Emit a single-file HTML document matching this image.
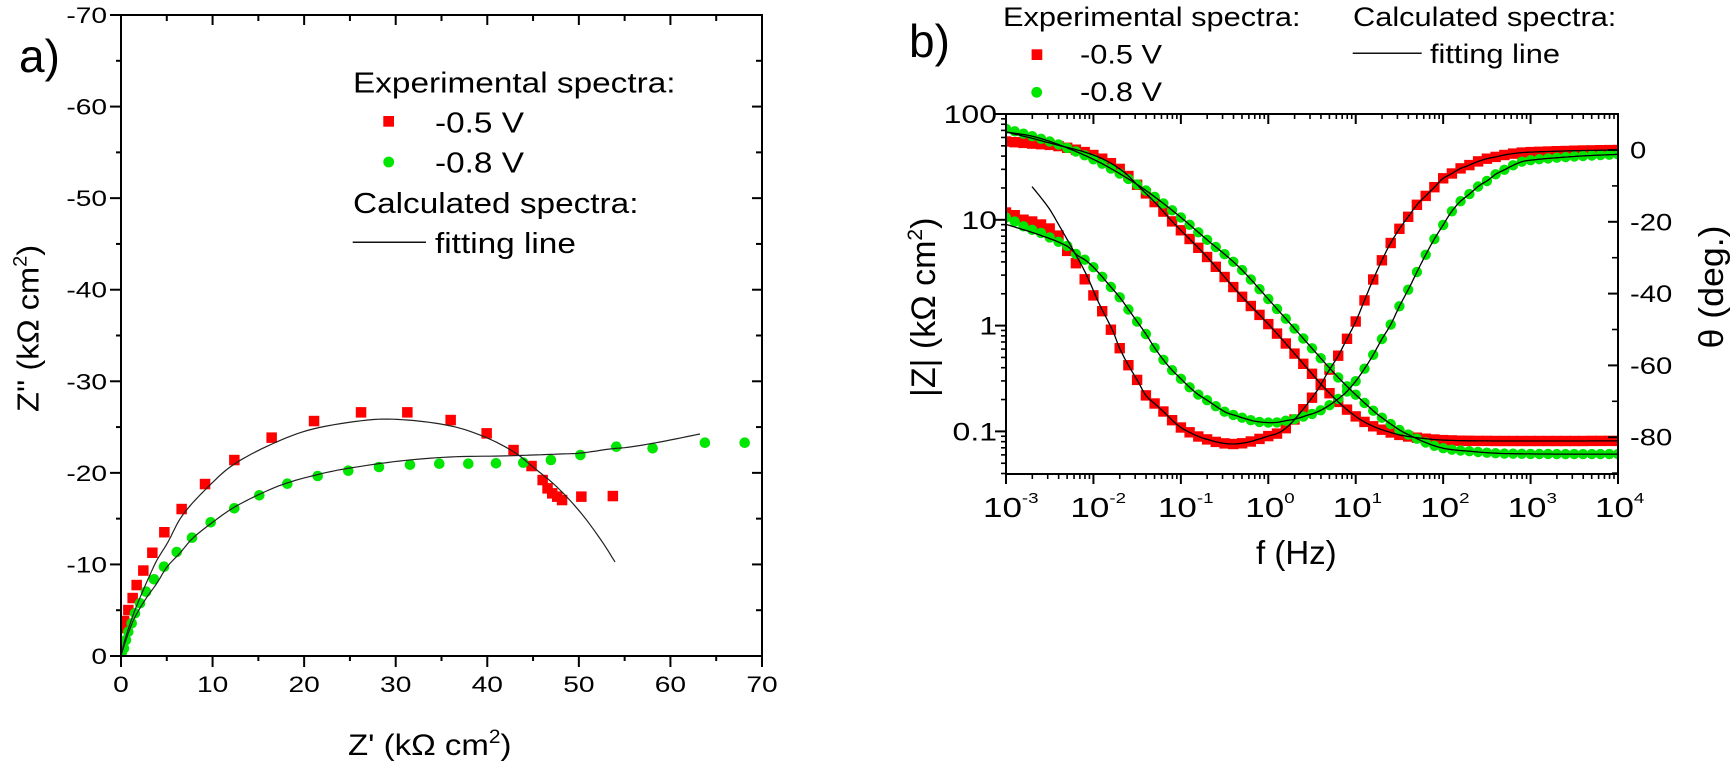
<!DOCTYPE html>
<html><head><meta charset="utf-8">
<style>
html,body{margin:0;padding:0;background:#fff;}
svg{display:block;}
text{font-family:"Liberation Sans",Arial,sans-serif;fill:#000;}
</style></head>
<body>
<svg id="s" width="1732" height="770" viewBox="0 0 1732 770" xmlns="http://www.w3.org/2000/svg">
<defs>
<clipPath id="clipL"><rect x="121" y="15" width="641" height="641"/></clipPath>
<clipPath id="clipR"><rect x="1006" y="114" width="612" height="360"/></clipPath>
</defs>
<rect width="1732" height="770" fill="#fff"/>
<g id="dataL" clip-path="url(#clipL)"></g>
<g id="dataR" clip-path="url(#clipR)"></g>
<g id="ticks" stroke="#000" stroke-width="2" fill="none"></g>
<rect x="121" y="15" width="641" height="641" fill="none" stroke="#000" stroke-width="2"/>
<rect x="1006" y="114" width="612" height="360" fill="none" stroke="#000" stroke-width="2"/>

<!-- panel labels -->
<text x="19" y="72" font-size="46">a)</text>
<text x="909" y="57" font-size="46">b)</text>

<!-- left plot tick labels -->
<g font-size="22" text-anchor="end">
<text transform="translate(107,664) scale(1.28,1)">0</text>
<text transform="translate(107,572.4) scale(1.28,1)">-10</text>
<text transform="translate(107,480.9) scale(1.28,1)">-20</text>
<text transform="translate(107,389.3) scale(1.28,1)">-30</text>
<text transform="translate(107,297.7) scale(1.28,1)">-40</text>
<text transform="translate(107,206.1) scale(1.28,1)">-50</text>
<text transform="translate(107,114.6) scale(1.28,1)">-60</text>
<text transform="translate(107,23) scale(1.28,1)">-70</text>
</g>
<g font-size="22" text-anchor="middle">
<text transform="translate(121,692) scale(1.28,1)">0</text>
<text transform="translate(212.6,692) scale(1.28,1)">10</text>
<text transform="translate(304.1,692) scale(1.28,1)">20</text>
<text transform="translate(395.7,692) scale(1.28,1)">30</text>
<text transform="translate(487.3,692) scale(1.28,1)">40</text>
<text transform="translate(578.9,692) scale(1.28,1)">50</text>
<text transform="translate(670.4,692) scale(1.28,1)">60</text>
<text transform="translate(762,692) scale(1.28,1)">70</text>
</g>

<!-- left plot titles -->
<text transform="translate(348,755) scale(1.1,1)" font-size="30">Z' (kΩ cm<tspan font-size="19" dy="-12">2</tspan><tspan dy="12">)</tspan></text>
<text transform="translate(38.5,412) rotate(-90) scale(1.05,1)" font-size="31">Z'' (kΩ cm<tspan font-size="19" dy="-12">2</tspan><tspan dy="12">)</tspan></text>

<!-- left legend -->
<g font-size="29">
<text transform="translate(353,92.3) scale(1.15,1)">Experimental spectra:</text>
<rect x="383.3" y="116" width="10.7" height="10.7" fill="#ff0000"/>
<text transform="translate(435,132.7) scale(1.15,1)">-0.5 V</text>
<circle cx="388.7" cy="162" r="5.4" fill="#00e600"/>
<text transform="translate(435,172.7) scale(1.15,1)">-0.8 V</text>
<text transform="translate(353,213) scale(1.15,1)">Calculated spectra:</text>
<line x1="352.7" y1="242.3" x2="426" y2="242.3" stroke="#111" stroke-width="1.5"/>
<text transform="translate(435,253) scale(1.15,1)">fitting line</text>
</g>

<!-- right legend -->
<g font-size="27">
<text transform="translate(1003,26) scale(1.14,1)">Experimental spectra:</text>
<rect x="1031.6" y="49.3" width="10.7" height="10.7" fill="#ff0000"/>
<text transform="translate(1080,63.3) scale(1.14,1)">-0.5 V</text>
<circle cx="1036.7" cy="92.3" r="5.4" fill="#00e600"/>
<text transform="translate(1080,101) scale(1.14,1)">-0.8 V</text>
<text transform="translate(1353,26) scale(1.14,1)">Calculated spectra:</text>
<line x1="1352.7" y1="53.3" x2="1421.7" y2="53.3" stroke="#111" stroke-width="1.5"/>
<text transform="translate(1430,63) scale(1.14,1)">fitting line</text>
</g>

<!-- right plot y labels -->
<g font-size="25" text-anchor="end">
<text transform="translate(997,123) scale(1.28,1)">100</text>
<text transform="translate(997,228.8) scale(1.28,1)">10</text>
<text transform="translate(997,334.6) scale(1.28,1)">1</text>
<text transform="translate(997,440.4) scale(1.28,1)">0.1</text>
</g>
<g font-size="24">
<text transform="translate(1630,158.5) scale(1.22,1)">0</text>
<text transform="translate(1630,230.3) scale(1.22,1)">-20</text>
<text transform="translate(1630,302.1) scale(1.22,1)">-40</text>
<text transform="translate(1630,373.9) scale(1.22,1)">-60</text>
<text transform="translate(1630,445.7) scale(1.22,1)">-80</text>
</g>
<!-- right plot x labels -->
<g font-size="28">
<text transform="translate(983,517) scale(1.25,1)">10<tspan font-size="15" dy="-14">-3</tspan></text>
<text transform="translate(1070.4,517) scale(1.25,1)">10<tspan font-size="15" dy="-14">-2</tspan></text>
<text transform="translate(1157.9,517) scale(1.25,1)">10<tspan font-size="15" dy="-14">-1</tspan></text>
<text transform="translate(1245.3,517) scale(1.25,1)">10<tspan font-size="15" dy="-14">0</tspan></text>
<text transform="translate(1332.7,517) scale(1.25,1)">10<tspan font-size="15" dy="-14">1</tspan></text>
<text transform="translate(1420.2,517) scale(1.25,1)">10<tspan font-size="15" dy="-14">2</tspan></text>
<text transform="translate(1507.6,517) scale(1.25,1)">10<tspan font-size="15" dy="-14">3</tspan></text>
<text transform="translate(1595,517) scale(1.25,1)">10<tspan font-size="15" dy="-14">4</tspan></text>
</g>
<!-- right plot titles -->
<text x="1256" y="564" font-size="33">f (Hz)</text>
<text transform="translate(935,397) rotate(-90)" font-size="34">|Z| (kΩ cm<tspan font-size="21" dy="-13">2</tspan><tspan dy="13">)</tspan></text>
<text transform="translate(1723,287) rotate(-90) scale(1.05,1)" font-size="34" text-anchor="middle">θ (deg.)</text>
</svg>
<script>
(function(){
var NS="http://www.w3.org/2000/svg";
function el(tag,attrs,parent){var e=document.createElementNS(NS,tag);for(var k in attrs)e.setAttribute(k,attrs[k]);parent.appendChild(e);return e;}
var gL=document.getElementById('dataL'), gR=document.getElementById('dataR'), gTk=document.getElementById('ticks');
var RED="#ff0000", GRN="#00e600";
function sq(g,x,y,s){el('rect',{x:(x-s/2).toFixed(1),y:(y-s/2).toFixed(1),width:s,height:s,fill:RED},g);}
function ci(g,x,y,r){el('circle',{cx:x.toFixed(1),cy:y.toFixed(1),r:r,fill:GRN},g);}
function pathD(pts){return 'M'+pts.map(function(p){return p[0].toFixed(1)+','+p[1].toFixed(1);}).join(' L');}
function cr(pts,seg){var out=[],n=pts.length;for(var i=0;i<n-1;i++){var p0=pts[Math.max(i-1,0)],p1=pts[i],p2=pts[i+1],p3=pts[Math.min(i+2,n-1)];for(var s=0;s<seg;s++){var t=s/seg,t2=t*t,t3=t2*t;var f=function(a,b,c,d){return 0.5*((2*b)+(-a+c)*t+(2*a-5*b+4*c-d)*t2+(-a+3*b-3*c+d)*t3);};out.push([f(p0[0],p1[0],p2[0],p3[0]),f(p0[1],p1[1],p2[1],p3[1])]);}}out.push(pts[n-1]);return out;}
function H(pts,x){var n=pts.length;if(x<=pts[0][0])return pts[0][1];if(x>=pts[n-1][0])return pts[n-1][1];var i=0;while(pts[i+1][0]<x)i++;var m=function(j){if(j<=0)return (pts[1][1]-pts[0][1])/(pts[1][0]-pts[0][0]);if(j>=n-1)return (pts[n-1][1]-pts[n-2][1])/(pts[n-1][0]-pts[n-2][0]);return (pts[j+1][1]-pts[j-1][1])/(pts[j+1][0]-pts[j-1][0]);};var x0=pts[i][0],x1=pts[i+1][0],y0=pts[i][1],y1=pts[i+1][1],h=x1-x0,t=(x-x0)/h,t2=t*t,t3=t2*t;return (2*t3-3*t2+1)*y0+(t3-2*t2+t)*h*m(i)+(-2*t3+3*t2)*y1+(t3-t2)*h*m(i+1);}

/* ---------- Nyquist (left) ---------- */
var nyqRed=[[122.5,628],[124,621],[128.3,610],[132.7,598],[136.7,585],[143.3,570.5],[152.3,552.7],[164.3,532.3],[181.7,509],[205,484],[234.3,460],[271.7,437.7],[314,421],[361,412.3],[407.3,412.3],[450.7,420],[486.7,433.3],[513.5,450],[531.5,466],[542.6,480],[547.5,488.3],[552.3,493.3],[557.2,496.7],[562,500],[581.4,496.7],[612.9,496]];
var nyqGrn=[[122,652],[124,648.3],[126,640],[128.3,631.7],[131.7,623.3],[135,613.3],[140,603.3],[146,591.7],[154,579.3],[164,566.7],[176.7,552],[192,537.7],[210.7,522.3],[234.3,508.3],[259.3,495.3],[287.3,483.7],[317.7,476],[348.3,470.7],[379,467],[410,464.7],[439.3,463.7],[468.3,463.7],[496,463.3],[523.3,462.7],[550.9,460],[580.4,455],[616.3,446.7],[652.6,448.3],[704.9,442.7],[744.7,442.7]];
var fitRed=[[121,656],[124,643],[129,627],[135,610],[142,593],[149,577],[157,560],[168,542],[182,516],[205,490],[233,465],[272,444],[313,429],[368,420],[407,420],[451,426],[485,437],[514,452],[533,467],[557,487],[581,513],[601,540],[615,562]];
var fitGrn=[[121,656],[124,646],[127,637],[131,626],[135,617],[145,600],[157,583],[167,567],[180,553],[193,538],[213,522],[233,508],[260,494],[287,483],[320,474],[350,468],[400,461],[450,457],[500,456],[533,455],[560,454],[581,453],[610,449],[630,447],[660,442],[700,434]];
nyqRed.forEach(function(p){sq(gL,p[0],p[1],10.5);});
nyqGrn.forEach(function(p){ci(gL,p[0],p[1],5.3);});
el('path',{d:pathD(cr(fitRed,8)),fill:'none',stroke:'#222','stroke-width':1.2},gL);
el('path',{d:pathD(cr(fitGrn,8)),fill:'none',stroke:'#222','stroke-width':1.2},gL);

/* ---------- Bode (right) ---------- */
function X(lf){return 1006+(lf+3)*87.43;}
function YZ(lz){return 114+(2-lz)*105.8;}
function YT(t){return 150-t*3.59;}
var rZ=[[-3,1.74],[-2.7,1.72],[-2.428,1.70],[-2.1,1.64],[-1.856,1.56],[-1.65,1.45],[-1.475,1.31],[-1.28,1.15],[-1.094,0.98],[-0.713,0.66],[-0.331,0.30],[0.05,-0.03],[0.431,-0.39],[0.622,-0.57],[0.812,-0.73],[1.003,-0.86],[1.194,-0.95],[1.4,-1.01],[1.575,-1.045],[1.956,-1.08],[2.5,-1.09],[4,-1.09]];
var rZfit=[[-3,1.83],[-2.7,1.77],[-2.428,1.71]].concat(rZ.slice(3));
var gZ=[[-3,1.86],[-2.7,1.79],[-2.428,1.72],[-2.1,1.61],[-1.856,1.51],[-1.475,1.32],[-1.094,1.086],[-0.713,0.82],[-0.331,0.55],[0.05,0.204],[0.431,-0.15],[0.812,-0.50],[1.194,-0.80],[1.4,-0.93],[1.575,-1.02],[1.956,-1.15],[2.34,-1.19],[2.72,-1.21],[4,-1.215]];
var gZfit=[[-3,1.83]].concat(gZ.slice(1));
var rT=[[-3,-17.4],[-2.886,-18.3],[-2.771,-19.7],[-2.657,-20.1],[-2.543,-21.5],[-2.428,-22.9],[-2.314,-27.6],[-2.218,-30.8],[-2.116,-35.3],[-2.009,-40.1],[-1.894,-45.2],[-1.799,-50.1],[-1.704,-55],[-1.608,-59.6],[-1.494,-64.3],[-1.399,-68.4],[-1.292,-70.8],[-1.189,-73.1],[-1.094,-75.4],[-1.0,-77.3],[-0.903,-78.6],[-0.789,-79.9],[-0.674,-80.8],[-0.56,-81.5],[-0.408,-81.9],[-0.255,-81.5],[-0.103,-80.5],[0.012,-79.6],[0.126,-78.7],[0.241,-76.6],[0.393,-72.4],[0.488,-69.4],[0.584,-66.1],[0.679,-62],[0.793,-57.6],[0.889,-53.1],[1.003,-47.6],[1.098,-42],[1.194,-36.4],[1.289,-31.3],[1.384,-26.6],[1.499,-22],[1.594,-18.8],[1.709,-15],[1.804,-12.7],[1.899,-10.4],[1.994,-8],[2.09,-6.7],[2.185,-5.3],[2.28,-4.4],[2.376,-3.4],[2.49,-2.5],[2.604,-1.9],[2.719,-1.3],[2.833,-0.9],[2.947,-0.65],[3.5,-0.2],[4,0]];
var rTfit=[[-2.703,-10.2],[-2.619,-12.7],[-2.504,-16.4],[-2.39,-21.1],[-2.238,-27.6],[-2.085,-34.5],[-1.933,-42.9],[-1.78,-50.3]].concat(rT.filter(function(p){return p[0]>-1.75;}));
var gTh=[[-3,-18.8],[-2.886,-20.1],[-2.771,-21.6],[-2.619,-22.9],[-2.504,-24.3],[-2.39,-25.7],[-2.276,-27.1],[-2.18,-29.4],[-2.085,-30.8],[-1.99,-32.9],[-1.894,-35.5],[-1.799,-38.2],[-1.685,-41.5],[-1.589,-44.8],[-1.494,-48],[-1.399,-51.3],[-1.303,-55],[-1.208,-58.2],[-1.113,-61],[-1.018,-63.3],[-0.922,-65.6],[-0.808,-68],[-0.693,-69.8],[-0.579,-71.7],[-0.484,-73.1],[-0.369,-74],[-0.255,-74.9],[-0.141,-75.6],[-0.026,-75.9],[0.088,-75.9],[0.202,-75.4],[0.317,-74.9],[0.431,-74],[0.546,-73.1],[0.66,-71.7],[0.774,-69.8],[0.889,-67.5],[1.003,-64.3],[1.098,-61],[1.194,-57.3],[1.289,-53.1],[1.403,-48.5],[1.499,-43.6],[1.613,-38.3],[1.708,-33.6],[1.804,-29],[1.899,-24.8],[1.994,-21.1],[2.09,-17.4],[2.185,-14.6],[2.299,-12.3],[2.414,-9.9],[2.509,-8.5],[2.604,-6.7],[2.719,-5.3],[2.833,-3.9],[2.947,-3],[3.5,-1.8],[4,-1.2]];
var gThfit=[[-3,-20.7],[-2.6,-23.8],[-2.3,-26.8]].concat(gTh.filter(function(p){return p[0]>-2.2;}));

var k,lf;
for(k=0;k<=70;k++){lf=-3+k*0.1;sq(gR,X(lf),YZ(H(rZ,lf)),10.4);sq(gR,X(lf),YT(H(rT,lf)),10.4);}
for(k=0;k<=70;k++){lf=-3+k*0.1;ci(gR,X(lf),YZ(H(gZ,lf)),5.2);ci(gR,X(lf),YT(H(gTh,lf)),5.2);}
function fitLine(pts,Y,x0,x1){var a=[];for(var l=x0;l<=x1+1e-9;l+=0.02)a.push([X(l),Y(H(pts,l))]);el('path',{d:pathD(a),fill:'none',stroke:'#000','stroke-width':1.3},gR);}
fitLine(rZfit,YZ,-3,4);fitLine(gZfit,YZ,-3,4);
fitLine(rTfit,YT,-2.703,4);fitLine(gThfit,YT,-3,4);

/* ---------- ticks ---------- */
function ln(x1,y1,x2,y2,w){el('line',{x1:x1,y1:y1,x2:x2,y2:y2,'stroke-width':w||2},gTk);}
var v,x,y,maj,d,n,t;
for(v=0;v<=70;v+=5){maj=v%10===0;x=121+v*9.157;y=656-v*9.157;
 ln(x,656,x,656+(maj?11:5));ln(x,15,x,15+(maj?10:6));
 ln(121,y,121-(maj?11:5),y);ln(762,y,762-(maj?10:6),y);}
for(d=-3;d<=4;d++){x=X(d);ln(x,474,x,484);ln(x,114,x,124);
 if(d<4){for(k=2;k<=9;k++){var xx=X(d+Math.log10(k));ln(xx,474,xx,479,1.6);ln(xx,114,xx,119,1.6);}}}
for(n=-1;n<=2;n++){y=YZ(n);ln(1006,y,995,y);}
for(n=-2;n<=1;n++){for(k=2;k<=9;k++){var lz=n+Math.log10(k);if(lz<-1.4)continue;y=YZ(lz);ln(1006,y,1001,y,1.6);}}
for(t=10;t>=-90;t-=10){y=YT(t);maj=(t%20===0);ln(1618,y,1618-(maj?10:6),y,maj?2:1.6);}
})();
</script>
</body></html>
